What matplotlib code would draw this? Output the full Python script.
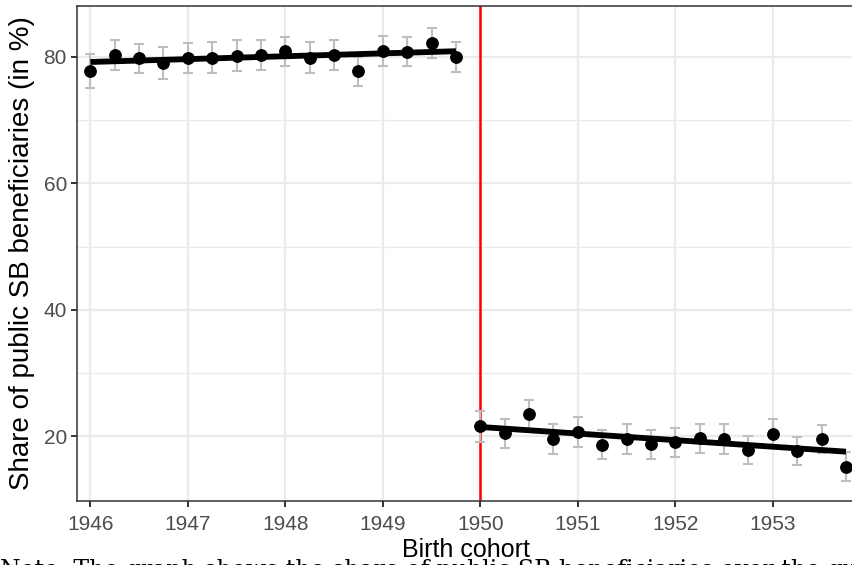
import matplotlib
matplotlib.use("Agg")
import matplotlib.pyplot as plt
import numpy as np

# ---- data ----
cohort_pre = [1946.00, 1946.25, 1946.50, 1946.75, 1947.00, 1947.25, 1947.50, 1947.75,
              1948.00, 1948.25, 1948.50, 1948.75, 1949.00, 1949.25, 1949.50, 1949.75]
share_pre = [77.8, 80.3, 79.8, 79.0, 79.8, 79.9, 80.2, 80.3,
             80.9, 79.9, 80.3, 77.7, 80.9, 80.8, 82.2, 80.0]
se_pre = [2.7, 2.4, 2.3, 2.5, 2.4, 2.4, 2.4, 2.4,
          2.3, 2.4, 2.3, 2.3, 2.4, 2.3, 2.3, 2.4]

cohort_post = [1950.00, 1950.25, 1950.50, 1950.75, 1951.00, 1951.25, 1951.50, 1951.75,
               1952.00, 1952.25, 1952.50, 1952.75, 1953.00, 1953.25, 1953.50, 1953.75]
share_post = [21.6, 20.5, 23.5, 19.6, 20.7, 18.7, 19.6, 18.8,
              19.1, 19.7, 19.6, 17.9, 20.4, 17.7, 19.6, 15.2]
se_post = [2.4, 2.3, 2.3, 2.3, 2.3, 2.3, 2.3, 2.3,
           2.3, 2.3, 2.3, 2.2, 2.3, 2.2, 2.2, 2.3]

fit_pre_x = [1946.00, 1949.75]
fit_pre_y = [79.2, 80.9]
fit_post_x = [1950.00, 1953.75]
fit_post_y = [21.5, 17.6]

cutoff = 1950
xticks = [1946, 1947, 1948, 1949, 1950, 1951, 1952, 1953]
yticks = [20, 40, 60, 80]
yminor = [30, 50, 70]

xlabel = "Birth cohort"
ylabel = "Share of public SB beneficiaries (in %)"
note = "Note. The graph shows the share of public SB beneficiaries over the quarter-year birth cohort"

# ---- figure ----
W, H = 852, 565
fig = plt.figure(figsize=(W / 100, H / 100), dpi=100)
left_px, right_px, top_px, bot_px = 76.7, 856, 6, 501
ax = fig.add_axes([left_px / W, 1 - bot_px / H, (right_px - left_px) / W, (bot_px - top_px) / H])

font = "Liberation Sans"
grid_c = "#EBEBEB"

ax.set_xlim(1945.86, 1945.86 + (right_px - left_px) / 97.5)
ax.set_ylim(9.8, 88.05)

ax.set_xticks(xticks)
ax.set_yticks(yticks)
ax.set_yticks(yminor, minor=True)
ax.grid(True, which="major", color=grid_c, lw=1.6, zorder=0)
ax.grid(True, which="minor", axis="y", color=grid_c, lw=0.9, zorder=0)
ax.set_axisbelow(True)

for sp in ["left", "bottom", "top"]:
    ax.spines[sp].set_color("#333333")
    ax.spines[sp].set_linewidth(1.1)
ax.spines["right"].set_visible(False)

ax.tick_params(axis="both", which="major", length=4, width=1.4, color="#333333",
               labelsize=15, labelcolor="#4D4D4D")
ax.tick_params(axis="x", which="major", pad=6)
ax.tick_params(axis="y", which="major", pad=3)
ax.tick_params(axis="y", which="minor", length=0)
for lab in ax.get_xticklabels() + ax.get_yticklabels():
    lab.set_fontfamily(font)

ax.axvline(cutoff, color="#FF0000", lw=1.8, zorder=2)

for xs, ys, es in [(cohort_pre, share_pre, se_pre), (cohort_post, share_post, se_post)]:
    ax.errorbar(xs, ys, yerr=es, fmt="none", ecolor="#BEBEBE", elinewidth=1.5,
                capsize=3.8, capthick=1.5, zorder=3)
    ax.plot(xs, ys, "o", color="black", ms=8.2, zorder=4)

ax.plot(fit_pre_x, fit_pre_y, color="black", lw=4.2, solid_capstyle="butt", zorder=5)
ax.plot(fit_post_x, fit_post_y, color="black", lw=4.2, solid_capstyle="butt", zorder=5)

ax.set_xlabel(xlabel, fontsize=18, family=font, color="black", labelpad=3)
ax.set_ylabel(ylabel, fontsize=20, family=font, color="black", labelpad=6)

fig.text(0.0, 1 - 559 / H, note, fontsize=17, family="DejaVu Serif", color="black",
         ha="left", va="top")

fig.savefig("out.png", dpi=100)
